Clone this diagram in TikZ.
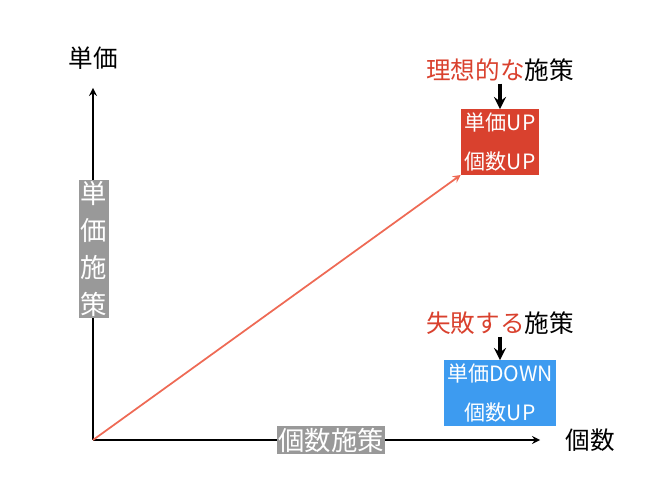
\documentclass[tikz,border=0pt]{standalone}
\usepackage{fontspec}
\setmainfont{Noto Sans CJK JP}
\definecolor{idealred}{HTML}{D9412E}
\definecolor{failblue}{HTML}{3D9BF0}
\definecolor{axisgray}{HTML}{999999}
\definecolor{arrowred}{HTML}{EE6A55}
\tikzset{
  tag/.style={fill=axisgray,text=white,inner sep=1pt,font=\fontsize{15}{18}\selectfont},
  result/.style={text=white,align=center,inner sep=2pt,font=\fontsize{12}{22}\selectfont},
  head/.style={font=\fontsize{14}{16}\selectfont}
}
\begin{document}
\begin{tikzpicture}[x=0.02cm,y=-0.02cm]
	\useasboundingbox (0,0) rectangle (650,500);
	\coordinate (o) at (93,440);
	\coordinate (ytop) at (93,88);
	\coordinate (xend) at (540,440);
	\draw[line width=1,-stealth] (o) -- (ytop);
	\draw[line width=1,-stealth] (o) -- (xend);
	\node[head] (ylab) at (93,58) {単価};
	\node[head] (xlab) at (590,440) {個数};
	\node[tag,align=center,font=\fontsize{15}{21}\selectfont] (ytag) at (94,249) {単\\価\\施\\策};
	\node[tag] (xtag) at (331,440) {個数施策};
	% ideal
	\node[result,fill=idealred,minimum width=75\pgflinewidth] (ideal) at (500,142) {単価UP\\個数UP};
	\node[head] (idealh) at (500,70) {\textcolor{idealred}{理想的な}施策};
	\draw[line width=2,-stealth] (idealh.south) ++(0,-4) coordinate (ia) -- (ideal.north);
	\draw[arrowred,line width=1,-stealth] (o) -- (ideal.south west);
	% failure
	\node[result,fill=failblue] (fail) at (500,393) {単価DOWN\\個数UP};
	\node[head] (failh) at (500,323) {\textcolor{idealred}{失敗する}施策};
	\draw[line width=2,-stealth] (failh.south) ++(0,-4) coordinate (fa) -- (fail.north);
\end{tikzpicture}
\end{document}
